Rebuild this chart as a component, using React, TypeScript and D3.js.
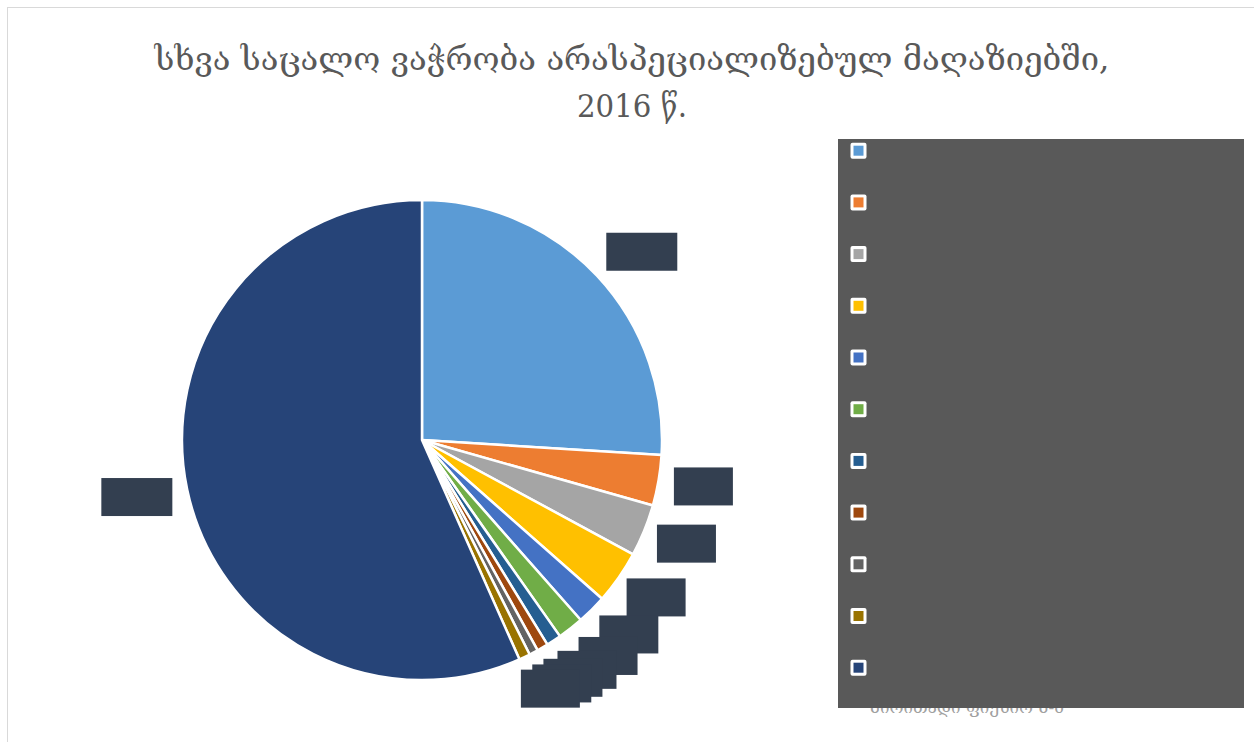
import React from "react";
import * as d3 from "d3";

const categories = [
  "კატეგორია 1",
  "კატეგორია 2",
  "კატეგორია 3",
  "კატეგორია 4",
  "კატეგორია 5",
  "კატეგორია 6",
  "კატეგორია 7",
  "კატეგორია 8",
  "კატეგორია 9",
  "კატეგორია 10",
  "კატეგორია 11",
];
const values = [26.0, 3.4, 3.5, 3.6, 2.0, 1.75, 1.0, 0.75, 0.6, 0.75, 56.65];
const colors = [
  "#5B9BD5", "#ED7D31", "#A5A5A5", "#FFC000", "#4472C4", "#70AD47",
  "#255E91", "#9E480E", "#636363", "#997300", "#264478",
];
const titleLines = ["სხვა საცალო ვაჭრობა არასპეციალიზებულ მაღაზიებში,", "2016 წ."];

export default function App() {
  const W = 1254, H = 742;
  const cx = 422, cy = 440, r = 240;
  const pie = d3.pie<number>().sort(null).value((d) => d);
  const arcs = pie(values);
  const arcGen = d3.arc<d3.PieArcDatum<number>>().innerRadius(0).outerRadius(r);
  const labelR = 256;
  const lab = arcs.map((a, i) => {
    const mid = (a.startAngle + a.endAngle) / 2;
    const s = Math.sin(mid), c = Math.cos(mid);
    const txt = values[i].toFixed(1) + "%";
    const big = values[i] >= 10;
    const w = big ? 71 : 59;
    const h = 38;
    const extra = big && s > 0 ? 10 : 0;
    const small = values[i] < 2.5 ? (values[i] < 1.9 ? 15 : 7) : 0;
    const x = cx + (labelR + extra + small) * s + (w / 2) * s;
    const y = cy - labelR * c - (h / 2) * c;
    return { x, y, w, h, txt };
  });
  const legY = d3.scaleLinear().domain([0, categories.length - 1]).range([150.7, 667.7]);
  return (
    <svg width={W} height={H} style={{ position: "absolute", left: 0, top: 0 }}>
      <rect x={0} y={0} width={W} height={H} fill="#fff" />
      <rect x={7.5} y={7.5} width={1270} height={770} fill="#fff" stroke="#D9D9D9" strokeWidth={1} />
      <text x={632} y={70} textAnchor="middle" fontFamily="'DejaVu Serif', 'DejaVu Sans', serif" fontSize={32} fill="#595959" textLength={955} lengthAdjust="spacingAndGlyphs">
        {titleLines[0]}
      </text>
      <text x={632} y={117} textAnchor="middle" fontFamily="'DejaVu Serif', 'DejaVu Sans', serif" fontSize={32} fill="#595959" textLength={110} lengthAdjust="spacingAndGlyphs">
        {titleLines[1]}
      </text>
      <g transform={`translate(${cx},${cy})`}>
        {arcs.map((a, i) => (
          <path key={i} d={arcGen(a) || ""} fill={colors[i]} stroke="#fff" strokeWidth={2.5} strokeLinejoin="round" />
        ))}
      </g>
      {lab.map((l, i) => (
        <g key={i}>
          <rect x={l.x - l.w / 2} y={l.y - l.h / 2} width={l.w} height={l.h} fill="#333F50" />
          <text x={l.x + l.w / 2 - 3} y={l.y - l.h / 2 + 7} textAnchor="end" fontFamily="'DejaVu Serif', serif" fontSize={6} fill="#333F50">
            {l.txt}
          </text>
        </g>
      ))}
      <text x={870} y={713} fontFamily="'DejaVu Serif', 'DejaVu Sans', serif" fontSize={17} fill="#A0A0A0">
        ძირითადი ფიქსირ ძ-ბ
      </text>
      <rect x={838} y={139} width={406} height={569} fill="#595959" />
      {categories.map((c, i) => (
        <g key={i}>
          <rect x={850.5} y={legY(i) - 8} width={16} height={16} rx={2} fill="#fff" />
          <rect x={853.5} y={legY(i) - 5} width={10} height={10} fill={colors[i]} />
          <text x={878} y={legY(i) + 5} fontFamily="'DejaVu Serif', serif" fontSize={14} fill="#595959">
            {c}
          </text>
        </g>
      ))}
    </svg>
  );
}
